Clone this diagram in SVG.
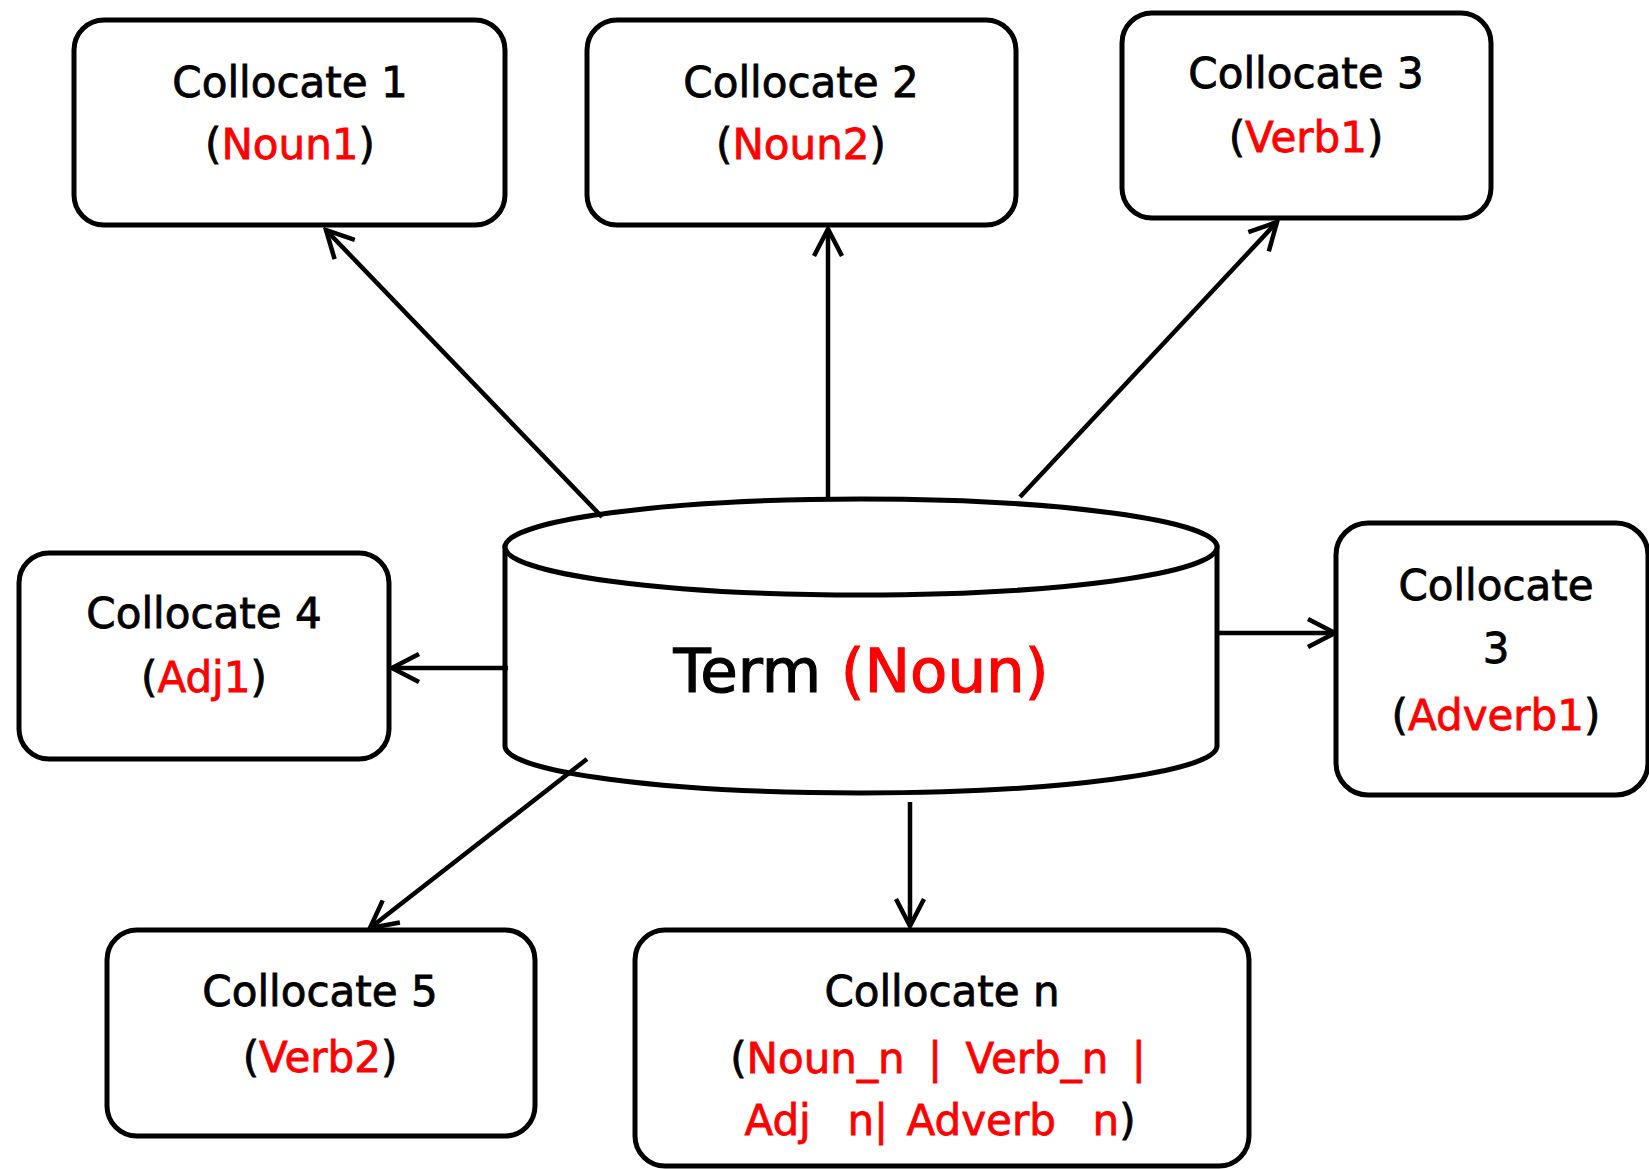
<svg xmlns="http://www.w3.org/2000/svg" width="1649" height="1169" viewBox="0 0 1649 1169">
<style>
.box{fill:#fff;stroke:#000;stroke-width:5}
.cyl{fill:#fff;stroke:#000;stroke-width:5}
.t{font-family:"DejaVu Sans",Verdana,sans-serif;font-size:42px;fill:#000;stroke:#000;stroke-width:0.8;text-anchor:middle}
.big{font-family:"DejaVu Sans",Verdana,sans-serif;font-size:61px;fill:#000;stroke:#000;stroke-width:1.2;text-anchor:middle}
.r{fill:#ff0000;stroke:#ff0000}
.c{stroke:#000;stroke-width:4.5;fill:none}
</style>
<defs>
<marker id="ah" markerUnits="userSpaceOnUse" viewBox="0 0 32 32" markerWidth="32" markerHeight="32" refX="29" refY="16" orient="auto">
<path d="M2,2 L29,16 L2,30" fill="none" stroke="#000" stroke-width="4.5"/>
</marker>
</defs>
<rect width="1649" height="1169" fill="#fff"/>
<g id="term">
<path class="cyl" d="M505,547 L505,746 A356,47 0 0 0 1217,746 L1217,547 Z"/>
<ellipse class="cyl" cx="861" cy="547" rx="356" ry="48"/>
<text class="big" x="861" y="692">Term <tspan class="r">(Noun)</tspan></text>
</g>
<g id="c1">
<rect class="box" x="74" y="20" width="431" height="205" rx="30"/>
<text class="t" x="290" y="97">Collocate 1</text>
<text class="t" x="290" y="159">(<tspan class="r">Noun1</tspan>)</text>
</g>
<g id="c2">
<rect class="box" x="587" y="20" width="429" height="205" rx="30"/>
<text class="t" x="801" y="97">Collocate 2</text>
<text class="t" x="801" y="159">(<tspan class="r">Noun2</tspan>)</text>
</g>
<g id="c3">
<rect class="box" x="1122" y="13" width="369" height="205" rx="30"/>
<text class="t" x="1306" y="88">Collocate 3</text>
<text class="t" x="1306" y="152">(<tspan class="r">Verb1</tspan>)</text>
</g>
<g id="c4">
<rect class="box" x="19" y="553" width="370" height="206" rx="30"/>
<text class="t" x="204" y="628">Collocate 4</text>
<text class="t" x="204" y="692">(<tspan class="r">Adj1</tspan>)</text>
</g>
<g id="c3b">
<rect class="box" x="1336" y="523" width="312" height="272" rx="32"/>
<text class="t" x="1496" y="600">Collocate</text>
<text class="t" x="1496" y="663">3</text>
<text class="t" x="1496" y="730">(<tspan class="r">Adverb1</tspan>)</text>
</g>
<g id="c5">
<rect class="box" x="107" y="930" width="428" height="206" rx="30"/>
<text class="t" x="320" y="1006">Collocate 5</text>
<text class="t" x="320" y="1072">(<tspan class="r">Verb2</tspan>)</text>
</g>
<g id="cn">
<rect class="box" x="635" y="930" width="614" height="236" rx="30"/>
<text class="t" x="938" y="1073" xml:space="preserve" style="word-spacing:10px">(<tspan class="r">Noun_n | Verb_n |</tspan></text>
<text class="t" x="942" y="1006">Collocate n</text>
<text class="t" x="940" y="1135" xml:space="preserve" style="word-spacing:5px"><tspan class="r">Adj  n| Adverb  n</tspan>)</text>
</g>
<g id="connectors">
<line class="c" x1="602" y1="517" x2="326" y2="230" marker-end="url(#ah)"/>
<line class="c" x1="828" y1="497" x2="828" y2="229" marker-end="url(#ah)"/>
<line class="c" x1="1020" y1="497" x2="1277" y2="222" marker-end="url(#ah)"/>
<line class="c" x1="508" y1="668" x2="392" y2="668" marker-end="url(#ah)"/>
<line class="c" x1="1218" y1="633" x2="1335" y2="633" marker-end="url(#ah)"/>
<line class="c" x1="587" y1="759" x2="370" y2="928" marker-end="url(#ah)"/>
<line class="c" x1="910" y1="802" x2="910" y2="926" marker-end="url(#ah)"/>
</g>
</svg>
